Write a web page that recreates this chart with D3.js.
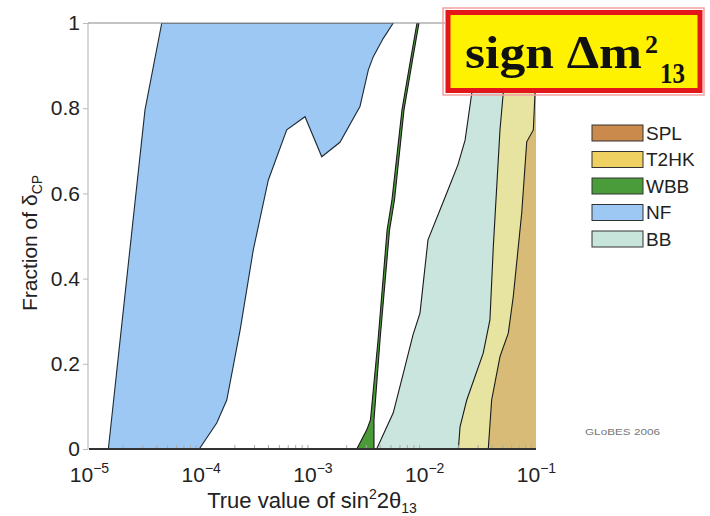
<!DOCTYPE html>
<html>
<head>
<meta charset="utf-8">
<title>sign dm13</title>
<script src="https://d3js.org/d3.v7.min.js"></script>
<style>
  body { margin: 0; background: #fff; }
  text { font-family: "Liberation Sans", Arial, sans-serif; }
  .serif { font-family: "Liberation Serif", "Times New Roman", serif; font-weight: bold; }
</style>
</head>
<body>
<div id="chart"></div>
<script>
// boundaries, [sin^2 2theta13, fraction of deltaCP]
const nfLeft = [[1.49e-5, 0], [2.17e-5, 0.397], [3.17e-5, 0.796], [4.48e-5, 1]];
const nfRight = [[5.28e-3, 1], [4.30e-3, 0.964], [3.50e-3, 0.921], [3.16e-3, 0.890], [2.66e-3, 0.804],
  [1.76e-3, 0.72], [1.21e-3, 0.686], [8.57e-4, 0.78], [5.88e-4, 0.749], [4.02e-4, 0.631],
  [2.95e-4, 0.467], [2.25e-4, 0.279], [1.71e-4, 0.115], [1.39e-4, 0.061], [9.7e-5, 0]];
const wbbLeft = [[2.49e-3, 0], [3.06e-3, 0.045], [3.30e-3, 0.068], [3.86e-3, 0.256], [4.65e-3, 0.514],
  [5.14e-3, 0.585], [6.32e-3, 0.796], [7.53e-3, 0.913], [8.61e-3, 1]];
const wbbRight = [[3.55e-3, 0], [3.55e-3, 0.068], [4.02e-3, 0.256], [4.89e-3, 0.514], [5.42e-3, 0.585],
  [6.59e-3, 0.796], [7.85e-3, 0.913], [8.97e-3, 1]];
const bbEdge = [[3.75e-3, 0], [5.28e-3, 0.085], [6.50e-3, 0.178], [7.93e-3, 0.268], [9.16e-3, 0.319],
  [1.08e-2, 0.491], [1.59e-2, 0.601], [2.00e-2, 0.667], [2.32e-2, 0.725], [2.66e-2, 0.835], [3.03e-2, 1]];
const t2hkEdge = [[2.02e-2, 0], [2.09e-2, 0.052], [2.40e-2, 0.115], [3.37e-2, 0.225], [3.87e-2, 0.303],
  [4.15e-2, 0.475], [4.76e-2, 0.749], [5.09e-2, 0.835], [5.40e-2, 1]];
const splEdge = [[3.74e-2, 0], [4.01e-2, 0.115], [4.76e-2, 0.217], [5.65e-2, 0.272], [6.26e-2, 0.358],
  [7.45e-2, 0.554], [8.26e-2, 0.721], [9.46e-2, 0.749], [9.80e-2, 0.835], [9.9e-2, 1]];

const xTicks = [1e-5, 1e-4, 1e-3, 1e-2, 1e-1];
const yTicks = [0, 0.2, 0.4, 0.6, 0.8, 1];
const legendNames = ["SPL", "T2HK", "WBB", "NF", "BB"];
const legendColors = ["#c98a4c", "#efd162", "#4a9c3a", "#9dc8f3", "#c8e5dc"];

const W = 710, H = 516;
const svg = d3.select("#chart").append("svg").attr("width", W).attr("height", H);

const x = d3.scaleLog().domain([1e-5, 1e-1]).range([89, 536]);
const y = d3.scaleLinear().domain([0, 1]).range([449, 23]);

const line = d3.line().x(d => x(d[0])).y(d => y(d[1]));

svg.append("clipPath").attr("id", "plot")
  .append("rect").attr("x", 88).attr("y", 23).attr("width", 448).attr("height", 426);

const g = svg.append("g").attr("clip-path", "url(#plot)");

// region = left edge, then out to the right border
function toRight(edge) {
  return edge.concat([[1e-1, 1], [1e-1, 0]]);
}

// NF band
g.append("path").attr("d", line(nfLeft.concat(nfRight)) + "Z")
  .attr("fill", "#9dc8f4").attr("stroke", "#1d2a33").attr("stroke-width", 1.1);

// WBB sliver
g.append("path").attr("d", line(wbbLeft.concat(wbbRight.slice().reverse())) + "Z")
  .attr("fill", "#4b9a38").attr("stroke", "#1a1a1a").attr("stroke-width", 1.1);

const fills = [[bbEdge, "#c9e5dd"], [t2hkEdge, "#e6e4a0"], [splEdge, "#d9bb78"]];
fills.forEach(function (f) {
  g.append("path").attr("d", line(toRight(f[0])) + "Z").attr("fill", f[1]);
  g.append("path").attr("d", line(f[0])).attr("fill", "none")
    .attr("stroke", "#1a1a1a").attr("stroke-width", 1.1);
});

// frame
svg.append("line").attr("x1", 88).attr("x2", 88).attr("y1", 23).attr("y2", 449)
  .attr("stroke", "#b0b0b0").attr("stroke-width", 1);
svg.append("line").attr("x1", 88).attr("x2", 445).attr("y1", 23).attr("y2", 23)
  .attr("stroke", "#8a8a8a").attr("stroke-width", 1.2);

// minor ticks on bottom, pointing inward
const minor = [];
[-5, -4, -3, -2].forEach(function (e) {
  for (let k = 2; k < 10; k++) minor.push(k * Math.pow(10, e));
});
svg.append("g").attr("transform", "translate(0,449)")
  .call(d3.axisTop(x).tickValues(minor).tickSize(4).tickFormat(""))
  .call(s => s.select(".domain").remove())
  .selectAll("line").attr("stroke", "#aaa");

const gx = svg.append("g").attr("transform", "translate(0,449)")
  .call(d3.axisBottom(x).tickValues(xTicks).tickSize(0));
gx.select(".domain").remove();
gx.selectAll(".tick text").each(function (d) {
  const t = d3.select(this);
  t.text(null).attr("y", 33).attr("dy", null).attr("font-size", 21).attr("fill", "#222");
  t.append("tspan").text("10");
  t.append("tspan").attr("dy", -9).attr("font-size", 14).text("\u2212" + Math.round(-Math.log10(d)));
});

svg.append("line").attr("x1", 89).attr("x2", 536).attr("y1", 449).attr("y2", 449)
  .attr("stroke", "#333").attr("stroke-width", 2);

const gy = svg.append("g").attr("transform", "translate(88,0)")
  .call(d3.axisLeft(y).tickValues(yTicks).tickSize(5).tickPadding(3)
    .tickFormat(d => d === 0 || d === 1 ? d3.format("d")(d) : d3.format(".1f")(d)));
gy.select(".domain").remove();
gy.selectAll(".tick line").attr("stroke", "#bbb");
gy.selectAll(".tick text").attr("font-size", 21).attr("fill", "#222")
  .attr("font-family", "Liberation Sans, Arial, sans-serif");

// axis titles
const xt = svg.append("text").attr("x", 312).attr("y", 508).attr("text-anchor", "middle")
  .attr("font-size", 22).attr("fill", "#222");
xt.append("tspan").text("True value of sin");
xt.append("tspan").attr("dy", -9).attr("font-size", 14).text("2");
xt.append("tspan").attr("dy", 9).text("2\u03b8");
xt.append("tspan").attr("dy", 5).attr("font-size", 14).text("13");

const yt = svg.append("text").attr("transform", "translate(37,243) rotate(-90)")
  .attr("text-anchor", "middle").attr("font-size", 21).attr("fill", "#222");
yt.append("tspan").text("Fraction of \u03b4");
yt.append("tspan").attr("dy", 5).attr("font-size", 14).text("CP");

// title box
svg.append("rect").attr("x", 443).attr("y", 8).attr("width", 261).attr("height", 87)
  .attr("fill", "none").attr("stroke", "#f2a0a0").attr("stroke-width", 1.5);
svg.append("rect").attr("x", 448).attr("y", 12.5).attr("width", 252).attr("height", 78)
  .attr("fill", "#fff200").attr("stroke", "#e3161b").attr("stroke-width", 5);
svg.append("text").attr("class", "serif").attr("x", 465).attr("y", 68)
  .attr("font-size", 46).attr("fill", "#111").attr("textLength", 177)
  .attr("lengthAdjust", "spacingAndGlyphs").text("sign \u0394m");
svg.append("text").attr("class", "serif").attr("x", 645).attr("y", 53)
  .attr("font-size", 26).attr("fill", "#111").text("2");
svg.append("text").attr("class", "serif").attr("x", 660).attr("y", 83)
  .attr("font-size", 30).attr("fill", "#111").attr("textLength", 25)
  .attr("lengthAdjust", "spacingAndGlyphs").text("13");

// legend
const leg = svg.append("g");
legendNames.forEach(function (name, i) {
  const yy = 125 + i * 26.5;
  leg.append("rect").attr("x", 592).attr("y", yy).attr("width", 51).attr("height", 16)
    .attr("fill", legendColors[i]).attr("stroke", "#333").attr("stroke-width", 1);
  leg.append("text").attr("x", 646).attr("y", yy + 14.5).attr("font-size", 19)
    .attr("fill", "#222").text(name);
});

svg.append("text").attr("x", 585).attr("y", 435).attr("font-size", 9).attr("fill", "#777")
  .attr("textLength", 75).attr("lengthAdjust", "spacingAndGlyphs").text("GLoBES 2006");
</script>
</body>
</html>
